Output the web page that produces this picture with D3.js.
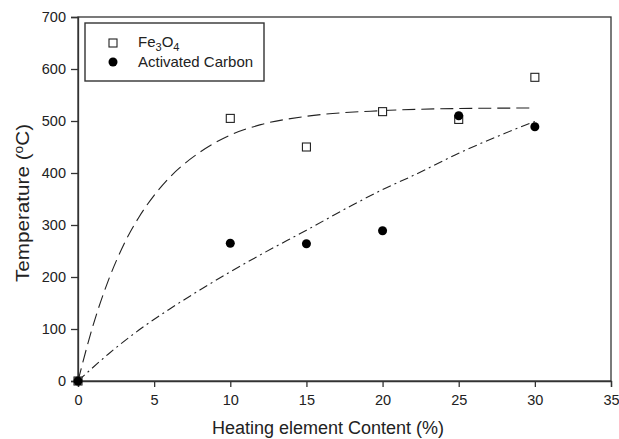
<!DOCTYPE html>
<html>
<head>
<meta charset="utf-8">
<script src="https://cdn.jsdelivr.net/npm/d3@7"></script>
<style>
  body { margin: 0; background: #fff; }
  svg { display: block; font-family: "Liberation Sans", Arial, sans-serif; }
</style>
</head>
<body>
<svg id="chart" width="619" height="439"></svg>
<script>
// ---- data ----
const contentX = [0, 10, 15, 20, 25, 30];
const fe3o4Temp = [0, 505, 450, 518, 503, 584];
const carbonTemp = [0, 265, 264, 289, 510, 489];

// fitted curves
const fe3o4FitX = [0, 1, 2, 3, 4, 5, 6, 8, 10, 12, 15, 20, 25, 30];
const fe3o4FitY = [0, 108, 194, 262, 315, 357, 391, 440, 473, 493, 509, 520, 524, 525];
const carbonFitX = [0, 2, 4, 6, 8, 10, 12, 15, 18, 20, 22, 25, 28, 30];
const carbonFitY = [0, 52, 98, 138, 175, 210, 243, 290, 338, 368, 395, 438, 476, 499];

const xTicks = [0, 5, 10, 15, 20, 25, 30, 35];
const yTicks = [0, 100, 200, 300, 400, 500, 600, 700];

// ---- layout ----
const svg = d3.select("#chart");
const pL = 78, pR = 611, pT = 17, pB = 381;
const x = d3.scaleLinear().domain([0, 35]).range([pL, pR]);
const y = d3.scaleLinear().domain([0, 700]).range([pB, pT]);
const ink = "#222";

// frame
svg.append("rect").attr("x", pL).attr("y", pT)
  .attr("width", pR - pL).attr("height", pB - pT)
  .attr("fill", "none").attr("stroke", "#333").attr("stroke-width", 1.3);

// axes
const xAxis = svg.append("g").attr("transform", `translate(0,${pB})`)
  .call(d3.axisBottom(x).tickValues(xTicks).tickSize(6).tickPadding(8).tickFormat(d3.format("d")));
const yAxis = svg.append("g").attr("transform", `translate(${pL},0)`)
  .call(d3.axisLeft(y).tickValues(yTicks).tickSize(7).tickPadding(5).tickFormat(d3.format("d")));
[xAxis, yAxis].forEach(g => {
  g.select(".domain").attr("stroke", "#333").attr("stroke-width", 1.3);
  g.selectAll(".tick line").attr("stroke", "#333").attr("stroke-width", 1.3);
  g.selectAll(".tick text").attr("fill", ink).style("font-size", "14.5px")
    .style("font-family", "'Liberation Sans', Arial, sans-serif");
});

// axis titles
svg.append("text").attr("x", 328).attr("y", 434)
  .attr("text-anchor", "middle").attr("fill", ink).style("font-size", "18px")
  .text("Heating element Content (%)");

const yt = svg.append("text")
  .attr("transform", `translate(29,203) rotate(-90) scale(1.15,1)`)
  .attr("text-anchor", "middle").attr("fill", ink).style("font-size", "18px");
yt.append("tspan").text("Temperature (");
yt.append("tspan").attr("baseline-shift", "super").style("font-size", "12px").text("o");
yt.append("tspan").text("C)");

// fitted lines
const line = d3.line().x(d => x(d[0])).y(d => y(d[1])).curve(d3.curveMonotoneX);
svg.append("path").datum(d3.zip(fe3o4FitX, fe3o4FitY)).attr("d", line)
  .attr("fill", "none").attr("stroke", ink).attr("stroke-width", 1.1)
  .attr("stroke-dasharray", "13,6");
svg.append("path").datum(d3.zip(carbonFitX, carbonFitY)).attr("d", line)
  .attr("fill", "none").attr("stroke", ink).attr("stroke-width", 1.1)
  .attr("stroke-dasharray", "9,4,2,4");

// points
const sq = 8;
svg.append("g").selectAll("rect").data(d3.zip(contentX, fe3o4Temp)).join("rect")
  .attr("x", d => x(d[0]) - sq / 2).attr("y", d => y(d[1]) - sq / 2)
  .attr("width", sq).attr("height", sq)
  .attr("fill", "#fff").attr("stroke", ink).attr("stroke-width", 1.1);
svg.append("g").selectAll("circle").data(d3.zip(contentX, carbonTemp)).join("circle")
  .attr("cx", d => x(d[0])).attr("cy", d => y(d[1])).attr("r", 4.5)
  .attr("fill", "#000");

// legend
const lg = svg.append("g");
lg.append("rect").attr("x", 85).attr("y", 23).attr("width", 179).attr("height", 58)
  .attr("fill", "#fff").attr("stroke", "#333").attr("stroke-width", 1.4);
lg.append("rect").attr("x", 113 - sq / 2).attr("y", 43 - sq / 2).attr("width", sq).attr("height", sq)
  .attr("fill", "#fff").attr("stroke", ink).attr("stroke-width", 1.1);
lg.append("circle").attr("cx", 113).attr("cy", 62).attr("r", 4.5).attr("fill", "#000");
const t1 = lg.append("text").attr("x", 138).attr("y", 47).attr("fill", ink).style("font-size", "15px");
t1.append("tspan").text("Fe");
t1.append("tspan").attr("dy", 4).style("font-size", "11px").text("3");
t1.append("tspan").attr("dy", -4).text("O");
t1.append("tspan").attr("dy", 4).style("font-size", "11px").text("4");
lg.append("text").attr("x", 138).attr("y", 67).attr("fill", ink).style("font-size", "15px")
  .text("Activated Carbon");
</script>
</body>
</html>
